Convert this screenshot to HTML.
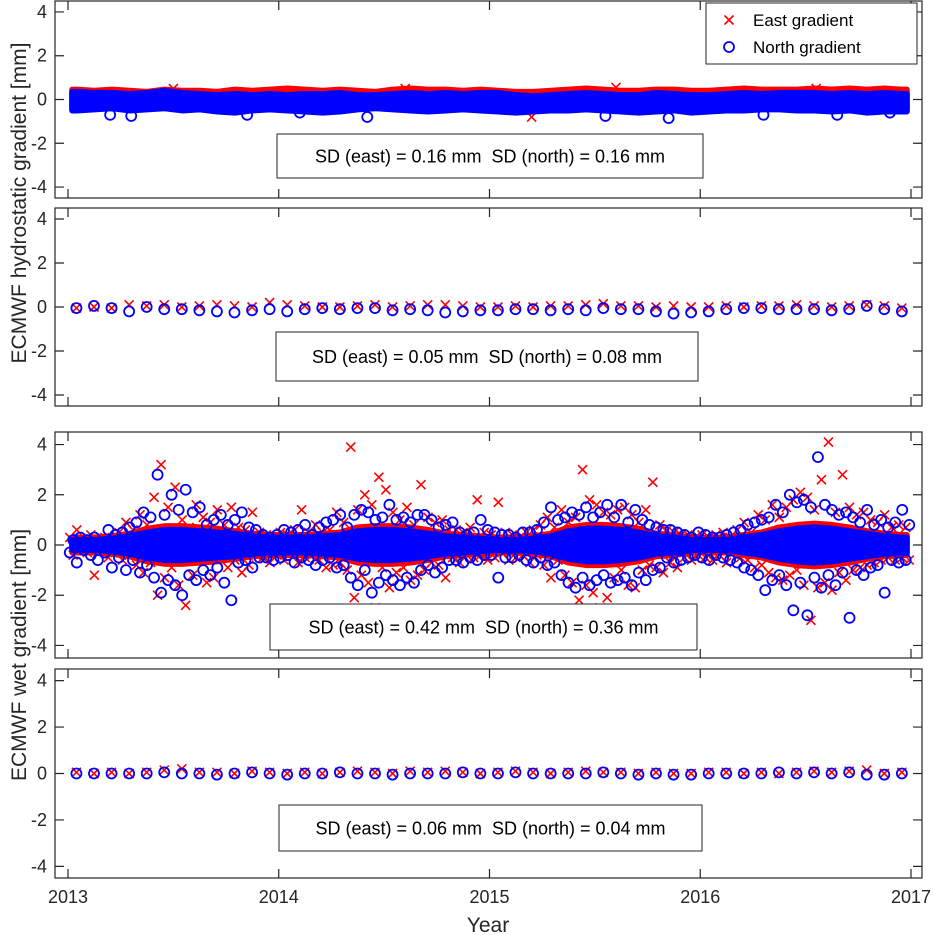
<!DOCTYPE html>
<html><head><meta charset="utf-8"><style>
body{margin:0;background:#fff;}
svg{display:block;font-family:"Liberation Sans",Arial,sans-serif;}
.pre{white-space:pre;}
</style></head><body>
<svg id="chart" width="934" height="935" viewBox="0 0 934 935" xmlns="http://www.w3.org/2000/svg"></svg>
<script>
// ---- data ----
const xTicks=[2013,2014,2015,2016,2017];
const yTicks=[-4,-2,0,2,4];
const hydroNorthLo=[-0.5,-0.45,-0.4,-0.5,-0.45,-0.4,-0.5,-0.45,-0.55,-0.6,-0.5,-0.45,-0.5,-0.55,-0.6,-0.55,-0.45,-0.4,-0.45,-0.5,-0.55,-0.5,-0.45,-0.5,-0.55,-0.6,-0.55,-0.5,-0.5,-0.45,-0.5,-0.55,-0.6,-0.55,-0.5,-0.6,-0.55,-0.5,-0.5,-0.45,-0.45,-0.5,-0.5,-0.55,-0.5,-0.6,-0.55,-0.55];
const hydroNorthHi=[0.35,0.3,0.3,0.25,0.3,0.4,0.3,0.25,0.2,0.25,0.2,0.25,0.2,0.25,0.25,0.3,0.2,0.2,0.25,0.3,0.25,0.3,0.25,0.3,0.3,0.2,0.15,0.2,0.25,0.3,0.25,0.2,0.2,0.3,0.25,0.2,0.2,0.25,0.3,0.25,0.3,0.3,0.3,0.25,0.3,0.25,0.3,0.25];
const hydroEastLo=[-0.45,-0.4,-0.4,-0.35,-0.4,-0.35,-0.3,-0.4,-0.4,-0.45,-0.4,-0.35,-0.4,-0.45,-0.5,-0.4,-0.35,-0.35,-0.4,-0.4,-0.45,-0.4,-0.4,-0.45,-0.5,-0.55,-0.45,-0.4,-0.4,-0.35,-0.4,-0.45,-0.5,-0.45,-0.4,-0.5,-0.45,-0.4,-0.4,-0.35,-0.35,-0.4,-0.4,-0.45,-0.4,-0.5,-0.45,-0.45];
const hydroEastHi=[0.45,0.4,0.45,0.4,0.35,0.45,0.4,0.4,0.35,0.45,0.4,0.45,0.5,0.45,0.4,0.45,0.4,0.35,0.45,0.5,0.45,0.45,0.4,0.45,0.4,0.35,0.35,0.4,0.45,0.5,0.45,0.4,0.4,0.45,0.45,0.4,0.4,0.45,0.5,0.45,0.45,0.45,0.5,0.45,0.5,0.45,0.5,0.45];
const hydroNorthOutT=[2013.2,2013.3,2013.85,2014.1,2014.42,2015.55,2015.85,2016.3,2016.65,2016.9];
const hydroNorthOutV=[-0.7,-0.75,-0.7,-0.6,-0.8,-0.75,-0.85,-0.7,-0.7,-0.6];
const hydroEastOutT=[2013.5,2014.6,2015.2,2015.6,2016.55];
const hydroEastOutV=[0.5,0.5,-0.8,0.55,0.5];
const hydroEast2=[-0.05,0.0,-0.05,0.1,0.05,0.1,0.0,0.05,0.1,0.05,0.0,0.2,0.1,0.05,0.0,0.0,0.05,0.1,0.0,0.05,0.1,0.1,0.05,0.0,0.0,0.05,0.0,0.05,0.05,0.1,0.15,0.05,0.05,0.0,0.05,0.0,0.0,0.05,0.0,0.05,0.05,0.1,0.05,0.0,0.05,0.1,0.05,-0.05];
const hydroNorth2=[-0.05,0.05,-0.05,-0.2,0.0,-0.1,-0.1,-0.15,-0.2,-0.25,-0.15,-0.1,-0.2,-0.1,-0.05,-0.1,-0.05,-0.05,-0.15,-0.1,-0.15,-0.25,-0.2,-0.15,-0.15,-0.1,-0.1,-0.15,-0.1,-0.15,-0.05,-0.1,-0.1,-0.2,-0.3,-0.25,-0.2,-0.1,-0.05,-0.05,-0.1,-0.1,-0.1,-0.15,-0.1,0.05,-0.1,-0.2];
const wetCoreNorth=[0.2,0.2,0.25,0.35,0.5,0.6,0.6,0.55,0.5,0.45,0.35,0.3,0.3,0.3,0.35,0.4,0.55,0.6,0.6,0.55,0.45,0.35,0.3,0.25,0.2,0.2,0.25,0.35,0.55,0.65,0.65,0.6,0.5,0.35,0.3,0.2,0.2,0.2,0.3,0.4,0.55,0.65,0.7,0.65,0.55,0.45,0.35,0.3];
const wetCoreEast=[0.3,0.3,0.35,0.45,0.65,0.75,0.75,0.7,0.65,0.55,0.45,0.4,0.4,0.4,0.45,0.5,0.7,0.75,0.75,0.7,0.6,0.45,0.4,0.35,0.3,0.3,0.35,0.45,0.7,0.8,0.8,0.75,0.65,0.45,0.4,0.3,0.3,0.3,0.4,0.5,0.7,0.8,0.85,0.8,0.7,0.55,0.45,0.4];
const wetEast=[0.3,-0.4,0.6,-0.2,0.1,-0.3,0.4,-1.2,0.2,-0.1,0.3,-0.5,0.2,-0.3,0.5,-0.6,0.9,-0.4,0.6,-0.8,1.2,-1.1,0.8,-0.7,1.9,-2.0,3.2,-1.3,1.5,-0.9,2.3,-1.6,1.0,-2.4,0.7,-1.2,1.6,-0.6,1.1,-1.5,0.9,-1.3,1.4,-0.5,0.8,-0.9,1.5,-0.6,0.7,-1.1,0.6,-0.8,1.3,-0.4,0.5,-0.5,0.4,-0.7,0.3,-0.4,
0.5,-0.6,0.4,-0.3,0.6,-0.7,1.4,-0.5,0.5,-0.4,0.8,-0.6,0.5,-0.9,0.6,-0.8,1.3,-0.7,0.9,-1.0,3.9,-2.1,1.4,-1.2,2.0,-1.5,1.6,-2.5,2.7,-0.9,2.2,-1.7,1.3,-1.1,1.0,-0.9,1.5,-1.4,0.8,-1.2,2.4,-1.0,1.1,-0.7,0.9,-0.8,1.0,-1.3,0.6,-0.5,0.6,-0.7,0.5,-0.4,0.7,-0.5,1.8,-0.4,0.5,-0.6,
0.4,-0.5,1.7,-0.3,0.5,-0.6,0.4,-0.5,0.3,-0.4,0.5,-0.7,0.6,-0.4,0.8,-0.8,1.1,-1.3,0.7,-0.6,1.4,-1.2,0.9,-1.5,1.1,-2.2,3.0,-1.6,1.8,-1.9,1.6,-2.5,1.3,-2.1,1.2,-1.3,1.4,-1.0,1.5,-1.6,1.2,-1.7,0.9,-1.0,1.4,-0.8,2.5,-0.9,0.8,-1.1,0.6,-0.7,0.5,-0.9,0.4,-0.5,0.4,-0.6,0.3,-0.4,
0.4,-0.5,0.3,-0.6,0.4,-0.4,0.5,-0.7,0.3,-0.3,0.6,-0.5,0.9,-0.6,0.5,-0.9,1.2,-0.8,1.0,-1.1,1.6,-1.3,1.1,-1.4,1.5,-1.2,1.8,-1.0,2.1,-1.6,1.9,-3.0,1.4,-1.7,2.6,-1.5,4.1,-1.8,1.3,-1.1,2.8,-1.4,1.5,-1.0,1.2,-0.9,1.3,-0.8,1.0,-0.7,0.9,-0.6,1.2,-0.5,0.7,-0.6,0.8,-0.5,0.7,-0.6];
const wetNorth=[-0.3,0.2,-0.7,0.3,-0.2,0.2,-0.4,0.3,-0.6,0.1,-0.3,0.6,-0.9,0.4,-0.5,0.5,-1.0,0.7,-0.6,0.9,-1.1,1.3,-0.8,1.1,-1.3,2.8,-1.9,1.2,-1.4,2.0,-1.6,1.4,-2.0,2.2,-1.2,1.3,-1.4,1.5,-1.0,0.8,-1.2,1.0,-0.9,1.2,-1.5,0.8,-2.2,1.0,-0.7,1.3,-0.6,0.7,-0.9,0.6,-0.5,0.4,-0.5,0.3,-0.6,0.4,
-0.5,0.6,-0.4,0.5,-0.7,0.6,-0.5,0.8,-0.6,0.4,-0.8,0.7,-0.6,0.9,-0.5,1.0,-0.9,1.2,-0.8,0.7,-1.3,1.2,-1.6,1.4,-1.0,1.3,-1.9,1.0,-1.5,1.1,-1.2,1.6,-1.4,1.0,-1.6,1.1,-1.3,0.9,-1.5,1.2,-1.0,1.2,-0.8,1.0,-1.1,0.7,-0.9,0.8,-0.6,0.9,-0.6,0.5,-0.7,0.4,-0.5,0.5,-0.6,1.0,-0.4,0.6,
-0.4,0.5,-1.3,0.4,-0.5,0.4,-0.5,0.3,-0.4,0.5,-0.6,0.5,-0.7,0.6,-0.5,0.9,-0.8,1.5,-0.7,1.0,-1.2,1.1,-1.5,1.3,-1.7,1.2,-1.3,1.5,-1.6,1.1,-1.4,1.3,-1.2,1.6,-1.5,1.1,-1.4,1.6,-1.3,0.9,-1.6,1.4,-1.1,1.0,-1.4,0.8,-1.0,0.7,-0.9,0.6,-0.5,0.6,-0.7,0.5,-0.6,0.4,-0.5,0.3,-0.4,0.5,
-0.5,0.4,-0.6,0.3,-0.4,0.3,-0.5,0.4,-0.6,0.5,-0.7,0.6,-0.9,0.8,-1.0,0.9,-1.2,1.0,-1.8,1.1,-1.4,1.6,-1.2,1.3,-1.6,2.0,-2.6,1.7,-1.5,1.8,-2.8,1.5,-1.3,3.5,-1.7,1.6,-1.2,1.4,-1.6,1.2,-1.1,1.3,-2.9,1.1,-1.0,0.9,-1.2,1.4,-0.9,0.8,-0.8,1.0,-1.9,0.7,-0.6,0.9,-0.7,1.4,-0.6,0.8];
const wetEast4=[0.05,0.0,0.05,0.0,0.05,0.15,0.2,0.05,0.05,0.0,0.1,0.05,0.0,0.05,0.0,0.05,0.1,0.05,0.0,0.1,0.05,0.1,0.05,0.0,0.05,0.1,0.05,0.0,0.05,0.1,0.05,0.05,0.0,0.05,0.0,0.0,0.05,0.05,0.0,0.05,0.0,0.05,0.1,0.05,0.1,0.15,0.0,0.05];
const wetNorth4=[0.0,0.0,0.0,0.0,0.0,0.05,0.0,0.0,-0.05,0.0,0.05,0.0,-0.05,0.0,0.0,0.05,0.0,0.0,-0.05,0.0,0.0,0.0,0.05,0.0,0.0,0.05,0.0,0.0,0.0,0.0,0.05,0.0,-0.05,0.0,-0.05,-0.05,0.0,0.0,0.0,0.0,0.05,0.0,0.05,0.0,0.05,-0.05,-0.05,0.0];
const sdLabels=["SD (east) = 0.16 mm  SD (north) = 0.16 mm","SD (east) = 0.05 mm  SD (north) = 0.08 mm","SD (east) = 0.42 mm  SD (north) = 0.36 mm","SD (east) = 0.06 mm  SD (north) = 0.04 mm"];

// ---- layout ----
const NS="http://www.w3.org/2000/svg";
const svg=document.getElementById('chart');
const L=55,R=922;
const panels=[{top:1,bot:198},{top:208,bot:406},{top:432,bot:658},{top:669,bot:878}];
const sdBoxes=[[277,134,426,44],[276,332,422,49],[270,604,427,46],[279,805,423,46]];
const xs=t=>68+(t-2013)*(911-68)/4;
function ys(p){const P=panels[p];return v=>P.bot-(v+4.5)/9*(P.bot-P.top);}
function el(tag,attrs,parent){const e=document.createElementNS(NS,tag);for(const k in attrs)e.setAttribute(k,attrs[k]);(parent||svg).appendChild(e);return e;}
const monthT=i=>2013.04+i/12;
const denseT=i=>2013+(i+0.5)/60;

function cross(g,x,y,c){const s=4.5;el('path',{d:`M${x-s},${y-s}L${x+s},${y+s}M${x-s},${y+s}L${x+s},${y-s}`,stroke:c,'stroke-width':1.6,fill:'none'},g);}
function circ(g,x,y,c){el('circle',{cx:x,cy:y,r:5,stroke:c,'stroke-width':1.8,fill:'none'},g);}
function band(g,lo,hi,y,c){
  let pts=[];
  const n=hi.length;
  pts.push([xs(2013.02),y(hi[0])]);
  for(let i=0;i<n;i++)pts.push([xs(2013+(i+0.5)/12),y(hi[i])]);
  pts.push([xs(2016.98),y(hi[n-1])]);
  pts.push([xs(2016.98),y(lo[n-1])]);
  for(let i=n-1;i>=0;i--)pts.push([xs(2013+(i+0.5)/12),y(lo[i])]);
  pts.push([xs(2013.02),y(lo[0])]);
  el('polygon',{points:pts.map(p=>p.join(',')).join(' '),fill:c,stroke:c,'stroke-width':6,'stroke-linejoin':'round'},g);
}

for(let p=0;p<4;p++){
  const P=panels[p],y=ys(p);
  const g=el('g',{});
  
  
  const clip=el('clipPath',{id:'clip'+p});
  el('rect',{x:L,y:P.top,width:R-L,height:P.bot-P.top},clip);
  const data=el('g',{'clip-path':`url(#clip${p})`},g);
  
  
  if(p===0){
    band(data,hydroEastLo,hydroEastHi,y,'#ff0000');
    hydroEastOutT.forEach((t,i)=>cross(data,xs(t),y(hydroEastOutV[i]),'#ff0000'));
    band(data,hydroNorthLo,hydroNorthHi,y,'#0000ff');
    hydroNorthOutT.forEach((t,i)=>circ(data,xs(t),y(hydroNorthOutV[i]),'#0000ff'));
  } else if(p===1){
    hydroEast2.forEach((v,i)=>cross(data,xs(monthT(i)),y(v),'#ff0000'));
    hydroNorth2.forEach((v,i)=>circ(data,xs(monthT(i)),y(v),'#0000ff'));
  } else if(p===2){
    band(data,wetCoreEast.map(v=>-v),wetCoreEast,y,'#ff0000');
    wetEast.forEach((v,i)=>cross(data,xs(denseT(i)),y(v),'#ff0000'));
    band(data,wetCoreNorth.map(v=>-v),wetCoreNorth,y,'#0000ff');
    wetNorth.forEach((v,i)=>circ(data,xs(denseT(i)),y(v),'#0000ff'));
  } else {
    wetEast4.forEach((v,i)=>cross(data,xs(monthT(i)),y(v),'#ff0000'));
    wetNorth4.forEach((v,i)=>circ(data,xs(monthT(i)),y(v),'#0000ff'));
  }
  const box=el('rect',{x:L,y:P.top,width:R-L,height:P.bot-P.top,fill:'none',stroke:'#262626','stroke-width':1.2},g);
  
  
  xTicks.forEach(t=>{const x=xs(t);el('path',{d:`M${x},${P.bot}v-9M${x},${P.top}v9`,stroke:'#262626','stroke-width':1.2},g);});
  yTicks.forEach(v=>{const yy=y(v);el('path',{d:`M${L},${yy}h9M${R},${yy}h-9`,stroke:'#262626','stroke-width':1.2},g);
    const tl=el('text',{x:L-8,y:yy+6,'text-anchor':'end','font-size':18,fill:'#262626'},g);tl.textContent=v;
    
    });
  const b=sdBoxes[p];
  const sb=el('rect',{x:b[0],y:b[1],width:b[2],height:b[3],fill:'#fff',stroke:'#262626','stroke-width':1},g);
  
  
  const st=el('text',{x:b[0]+b[2]/2,y:b[1]+b[3]/2+6.5,'text-anchor':'middle','font-size':18,fill:'#000','class':'pre'},g);
  st.textContent=sdLabels[p];
  
  
}
xTicks.forEach(t=>{const tl=el('text',{x:xs(t),y:903,'text-anchor':'middle','font-size':18,fill:'#262626'});tl.textContent=t;
  
  });
const xt=el('text',{x:488,y:932,'text-anchor':'middle','font-size':21,fill:'#262626'});xt.textContent='Year';


const y1=el('text',{x:0,y:0,transform:'translate(26,203) rotate(-90)','text-anchor':'middle','font-size':21,fill:'#262626'});y1.textContent='ECMWF hydrostatic gradient [mm]';


const y2=el('text',{x:0,y:0,transform:'translate(26,655) rotate(-90)','text-anchor':'middle','font-size':21,fill:'#262626'});y2.textContent='ECMWF wet gradient [mm]';


const lg=el('g',{});


el('rect',{x:706,y:3,width:211,height:61,fill:'#fff',stroke:'#262626','stroke-width':1},lg);
cross(lg,729,20,'#ff0000');
circ(lg,729,47,'#0000ff');
const le=el('text',{x:753,y:26,'font-size':17,fill:'#000'},lg);le.textContent='East gradient';


const ln=el('text',{x:753,y:53,'font-size':17,fill:'#000'},lg);ln.textContent='North gradient';


</script>
</body></html>
